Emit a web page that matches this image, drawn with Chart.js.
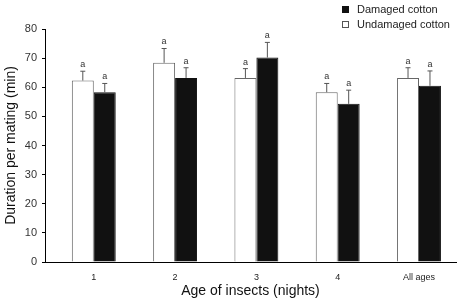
<!DOCTYPE html>
<html>
<head>
<meta charset="utf-8">
<script src="https://cdn.jsdelivr.net/npm/chart.js@4.4.0/dist/chart.umd.min.js"></script>
<style>
  html, body { margin: 0; padding: 0; background: #fff; }
  #wrap { position: relative; width: 459px; height: 303px; font-family: "Liberation Sans", Arial, sans-serif; }
  #legend { position: absolute; left: 342px; top: 2px; font-size: 11px; color: #222; line-height: 15px; }
  #legend div { display: flex; align-items: center; }
  #legend span.box { display: inline-block; width: 7px; height: 7px; margin-right: 8px; box-sizing: border-box; }
</style>
</head>
<body>
<div id="wrap">
  <canvas id="c" width="459" height="303"></canvas>
  <div id="legend">
    <div><span class="box" style="background:#111;border:1px solid #111"></span>Damaged cotton</div>
    <div><span class="box" style="background:#fff;border:1px solid #555"></span>Undamaged cotton</div>
  </div>
</div>
<script>
const ages = ['1', '2', '3', '4', 'All ages'];
const undamaged = [62.3, 68.4, 63.2, 58.3, 63.2];
const undamagedErr = [3.2, 4.9, 3.2, 3.0, 3.5];
const damaged = [58.3, 63.2, 70.2, 54.3, 60.5];
const damagedErr = [3.0, 3.5, 5.2, 4.7, 5.1];
const letters = ['a', 'a', 'a', 'a', 'a'];
const yTicks = [0, 10, 20, 30, 40, 50, 60, 70, 80];

const errs = [undamagedErr, damagedErr];

const errorBars = {
  id: 'errorBars',
  afterDatasetsDraw(chart) {
    const ctx = chart.ctx, y = chart.scales.y;
    ctx.save();
    chart.data.datasets.forEach((ds, di) => {
      chart.getDatasetMeta(di).data.forEach((bar, i) => {
        const v = ds.data[i].y;
        const top = y.getPixelForValue(v + errs[di][i]);
        const base = y.getPixelForValue(v);
        ctx.strokeStyle = '#555';
        ctx.lineWidth = 1;
        ctx.beginPath();
        ctx.moveTo(bar.x, base);
        ctx.lineTo(bar.x, top);
        ctx.moveTo(bar.x - 2.5, top);
        ctx.lineTo(bar.x + 2.5, top);
        ctx.stroke();
        ctx.fillStyle = '#333';
        ctx.font = '9px "Liberation Sans", Arial, sans-serif';
        ctx.textAlign = 'center';
        ctx.textBaseline = 'bottom';
        ctx.fillText(letters[i], bar.x, top - 2);
      });
    });
    ctx.restore();
  }
};

new Chart(document.getElementById('c'), {
  type: 'bar',
  data: {
    datasets: [
      {
        label: 'Undamaged cotton',
        data: undamaged.map((v, i) => ({ x: i + 1, y: v })),
        backgroundColor: '#fff',
        borderColor: '#666',
        borderWidth: 1
      },
      {
        label: 'Damaged cotton',
        data: damaged.map((v, i) => ({ x: i + 1, y: v })),
        backgroundColor: '#111',
        borderColor: '#111',
        borderWidth: 1
      }
    ]
  },
  options: {
    responsive: false,
    animation: false,
    layout: { padding: { top: 29, right: 3 } },
    categoryPercentage: 0.54,
    barPercentage: 1,
    scales: {
      x: {
        type: 'linear',
        offset: false,
        min: 0.4,
        max: 5.455,
        afterBuildTicks: s => { s.ticks = ages.map((_, i) => ({ value: i + 1 })); },
        afterFit: s => { s.height = 41; },
        grid: { display: false, drawTicks: false },
        border: { display: true, color: '#000', width: 1 },
        ticks: {
          padding: 10,
          color: '#222',
          font: { family: '"Liberation Sans", Arial, sans-serif', size: 9 },
          callback: v => ages[v - 1] || ''
        },
        title: {
          display: true,
          text: 'Age of insects (nights)',
          color: '#111',
          padding: { top: 0, bottom: 3 },
          font: { family: '"Liberation Sans", Arial, sans-serif', size: 14 }
        }
      },
      y: {
        min: 0,
        max: 80,
        afterBuildTicks: s => {
          const t = [];
          for (let v = 0; v <= 80; v += 5) t.push({ value: v });
          s.ticks = t;
        },
        afterFit: s => { s.width = 45; },
        grid: { display: true, drawOnChartArea: false, tickLength: 3, tickColor: '#000' },
        border: { display: true, color: '#000', width: 1 },
        ticks: {
          padding: 5,
          color: '#333',
          font: { family: '"Liberation Sans", Arial, sans-serif', size: 11 },
          callback: v => yTicks.includes(v) ? v : ''
        },
        title: {
          display: true,
          text: 'Duration per mating (min)',
          color: '#111',
          padding: { top: 3, bottom: 0 },
          font: { family: '"Liberation Sans", Arial, sans-serif', size: 14 }
        }
      }
    },
    plugins: {
      legend: { display: false },
      tooltip: { enabled: false }
    }
  },
  plugins: [errorBars]
});
</script>
</body>
</html>
